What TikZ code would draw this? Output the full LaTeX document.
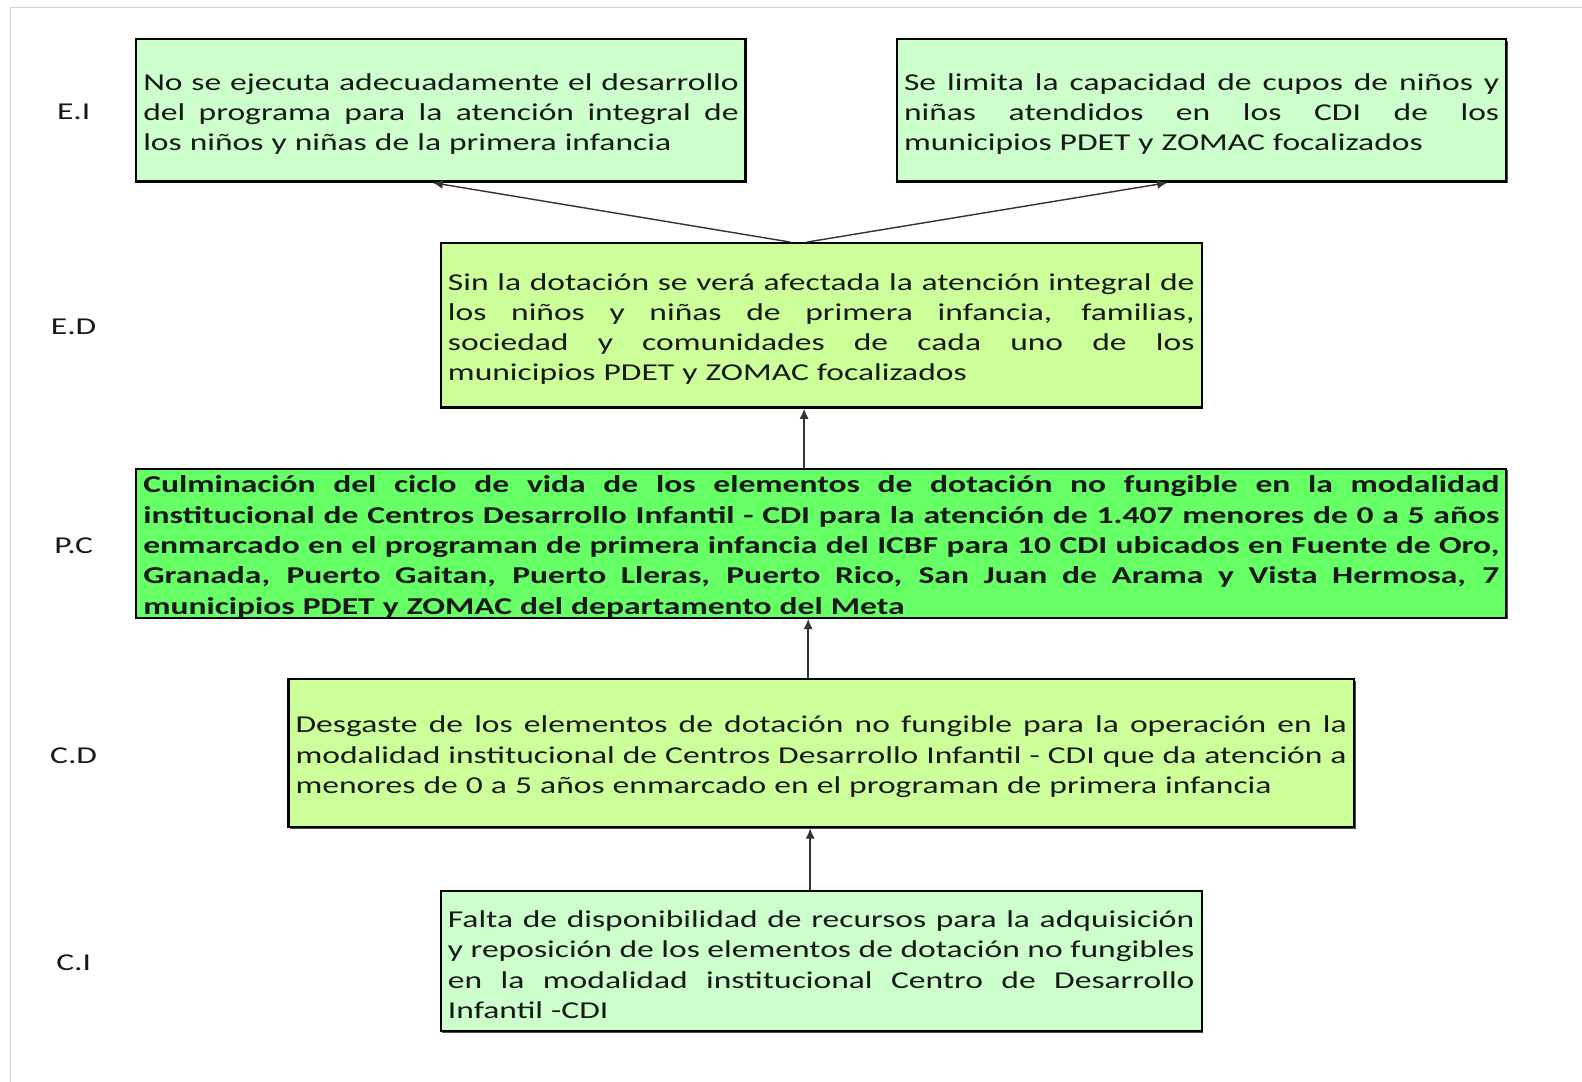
\documentclass[tikz,border=0pt]{standalone}
\usepackage{fontspec}
\setmainfont{Carlito}[FakeStretch=1.385]
\usetikzlibrary{arrows.meta,shadows}
\definecolor{lgreen}{HTML}{CCFFCC}
\definecolor{ygreen}{HTML}{CCFF99}
\definecolor{bgreen}{HTML}{66FF66}
\newcommand{\J}[1]{\leavevmode\hbox to\hsize{\spaceskip=\fontdimen2\font plus 1fil\relax #1}}
\newcommand{\F}{\rule{0pt}{24pt}}
\tikzset{
  boxnode/.style={draw=black, line width=2.2pt, rectangle, inner sep=0pt,
    align=left, font=\fontsize{24}{30}\selectfont, text=black!90,
    drop shadow={shadow xshift=1.5pt, shadow yshift=-1.5pt, fill=black!70, opacity=1}},
  lvl/.style={font=\fontsize{24}{30}\selectfont, text=black!90, inner sep=0pt},
  arr/.style={line width=1.4pt, draw=black!80, -{Latex[length=10pt,width=9pt]}}
}
\begin{document}
\begin{tikzpicture}[x=1pt,y=-1pt]
\useasboundingbox (0,0) rectangle (1568,1072.4);
\fill[white] (0,0) rectangle (1568,1072.4);
\draw[black!18, line width=1pt] (10,1072.4) -- (10,7) -- (1568,7);

\node[lvl] (lEI) at (73,111) {E.I};
\node[lvl] (lED) at (73,324) {E.D};
\node[lvl] (lPC) at (73,541) {P.C};
\node[lvl] (lCD) at (73,749) {C.D};
\node[lvl] (lCI) at (73,954) {C.I};

\node[boxnode, fill=lgreen, minimum width=604pt, minimum height=141pt, text width=590pt] (EIL) at (437,109.5)
 {\J{\F No se ejecuta adecuadamente el desarrollo}\\
  \J{del programa para la atención integral de}\\
  los niños y niñas de la primera infancia};

\node[boxnode, fill=lgreen, minimum width=604pt, minimum height=141pt, text width=590pt] (EIR) at (1191,109.5)
 {\J{\F Se limita la capacidad de cupos de niños y}\\
  \J{niñas atendidos en los CDI de los}\\
  municipios PDET y ZOMAC focalizados};

\node[boxnode, fill=ygreen, minimum width=754pt, minimum height=163pt, text width=740pt] (ED) at (814,322.5)
 {\J{\F Sin la dotación se verá afectada la atención integral de}\\
  \J{los niños y niñas de primera infancia, familias,}\\
  \J{sociedad y comunidades de cada uno de los}\\
  municipios PDET y ZOMAC focalizados};

\node[boxnode, fill=bgreen, minimum width=1358pt, minimum height=147pt, text width=1344pt, font=\fontsize{24}{30}\selectfont\bfseries] (PC) at (814,538.5)
 {\J{\F Culminación del ciclo de vida de los elementos de dotación no fungible en la modalidad}\\
  \J{institucional de Centros Desarrollo Infantil - CDI para la atención de 1.407 menores de 0 a 5 años}\\
  \J{enmarcado en el programan de primera infancia del ICBF para 10 CDI ubicados en Fuente de Oro,}\\
  \J{Granada, Puerto Gaitan, Puerto Lleras, Puerto Rico, San Juan de Arama y Vista Hermosa, 7}\\
  municipios PDET y ZOMAC del departamento del Meta};

\node[boxnode, fill=ygreen, minimum width=1056pt, minimum height=147pt, text width=1042pt] (CD) at (814,746.5)
 {\J{\F Desgaste de los elementos de dotación no fungible para la operación en la}\\
  \J{modalidad institucional de Centros Desarrollo Infantil - CDI que da atención a}\\
  menores de 0 a 5 años enmarcado en el programan de primera infancia};

\node[boxnode, fill=lgreen, minimum width=754pt, minimum height=139pt, text width=740pt] (CI) at (814,952.5)
 {\J{\F Falta de disponibilidad de recursos para la adquisición}\\
  \J{y reposición de los elementos de dotación no fungibles}\\
  \J{en la modalidad institucional Centro de Desarrollo}\\
  Infantil -CDI};

\draw[arr] ([xshift=-31pt]ED.north) -- ([xshift=-8pt]EIL.south);
\draw[arr] ([xshift=-14pt]ED.north) -- ([xshift=-34pt]EIR.south);
\draw[arr] ([xshift=-17pt]PC.north) -- ([xshift=-17pt]ED.south);
\draw[arr] ([xshift=-13pt]CD.north) -- ([xshift=-13pt]PC.south);
\draw[arr] ([xshift=-11pt]CI.north) -- ([xshift=-11pt]CD.south);
\end{tikzpicture}
\end{document}
